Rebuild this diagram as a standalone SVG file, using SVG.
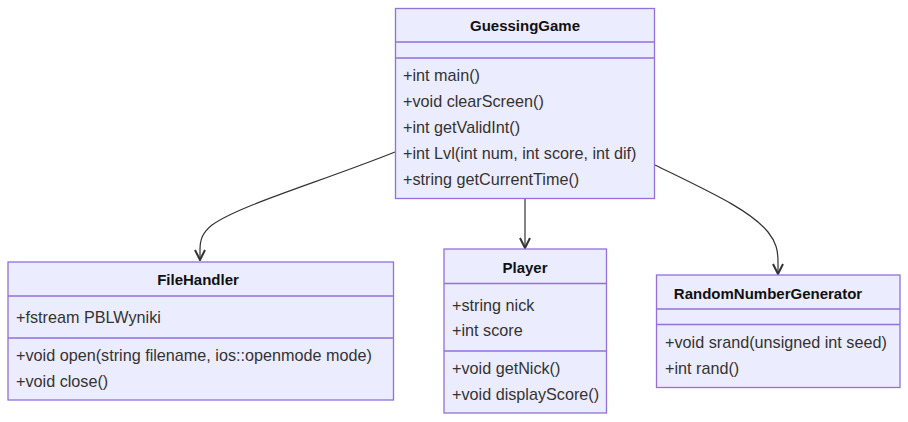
<svg xmlns="http://www.w3.org/2000/svg" width="908" height="422" viewBox="0 0 908 422">
<style>
.box{fill:#ECECFF;stroke:#9370DB;stroke-width:1.3}
.div{stroke:#9370DB;stroke-width:1.3}
.t{font-family:"Liberation Sans",Arial,sans-serif;font-size:16.2px;fill:#333}
.h{font-family:"Liberation Sans",Arial,sans-serif;font-size:15px;font-weight:bold;fill:#111;text-anchor:middle}
.e{fill:none;stroke:#333;stroke-width:1.2}
</style>
<defs>
<marker id="arr" viewBox="0 0 12 12" refX="11" refY="6" markerWidth="12" markerHeight="12" markerUnits="userSpaceOnUse" orient="auto">
<path d="M1,1 L11,6 L1,11" fill="none" stroke="#333" stroke-width="2"/>
</marker>
<clipPath id="gclip"><rect x="395" y="8" width="258" height="191"/></clipPath>
</defs>
<g id="edges">
<path class="e" d="M395,152 C320,182 240,205 212,225 C202,233 200,240 200,250 L200,260" marker-end="url(#arr)"/>
<path class="e" d="M525,199 L525,248" marker-end="url(#arr)"/>
<path class="e" d="M655,165 C710,192 750,210 768,232 C776,242 778,250 778,262 L778,274" marker-end="url(#arr)"/>
</g>
<g id="GuessingGame">
<rect class="box" x="395.5" y="8.5" width="259" height="190"/>
<line class="div" x1="395.5" y1="42" x2="654.5" y2="42"/>
<line class="div" x1="395.5" y1="58" x2="654.5" y2="58"/>
<text class="h" x="525" y="31">GuessingGame</text>
<g clip-path="url(#gclip)">
<text class="t" x="403" y="81">+int main()</text>
<text class="t" x="403" y="107">+void clearScreen()</text>
<text class="t" x="403" y="133">+int getValidInt()</text>
<text class="t" x="403" y="159">+int Lvl(int num, int score, int dif)</text>
<text class="t" x="403" y="185">+string getCurrentTime()</text>
</g>
</g>
<g id="FileHandler">
<rect class="box" x="8" y="262" width="385.5" height="138"/>
<line class="div" x1="8" y1="296" x2="393.5" y2="296"/>
<line class="div" x1="8" y1="338" x2="393.5" y2="338"/>
<text class="h" x="198" y="285">FileHandler</text>
<text class="t" x="16" y="323">+fstream PBLWyniki</text>
<text class="t" x="16" y="361">+void open(string filename, ios::openmode mode)</text>
<text class="t" x="16" y="387">+void close()</text>
</g>
<g id="Player">
<rect class="box" x="444" y="249" width="162.5" height="164"/>
<line class="div" x1="444" y1="283.5" x2="606.5" y2="283.5"/>
<line class="div" x1="444" y1="351" x2="606.5" y2="351"/>
<text class="h" x="525" y="273">Player</text>
<text class="t" x="452" y="311">+string nick</text>
<text class="t" x="452" y="336">+int score</text>
<text class="t" x="452" y="374">+void getNick()</text>
<text class="t" x="452" y="400">+void displayScore()</text>
</g>
<g id="RandomNumberGenerator">
<rect class="box" x="656.5" y="275" width="243.5" height="112.5"/>
<line class="div" x1="656.5" y1="309" x2="900" y2="309"/>
<line class="div" x1="656.5" y1="324.5" x2="900" y2="324.5"/>
<text class="h" x="768" y="299">RandomNumberGenerator</text>
<text class="t" x="665" y="348">+void srand(unsigned int seed)</text>
<text class="t" x="665" y="374">+int rand()</text>
</g>
</svg>
